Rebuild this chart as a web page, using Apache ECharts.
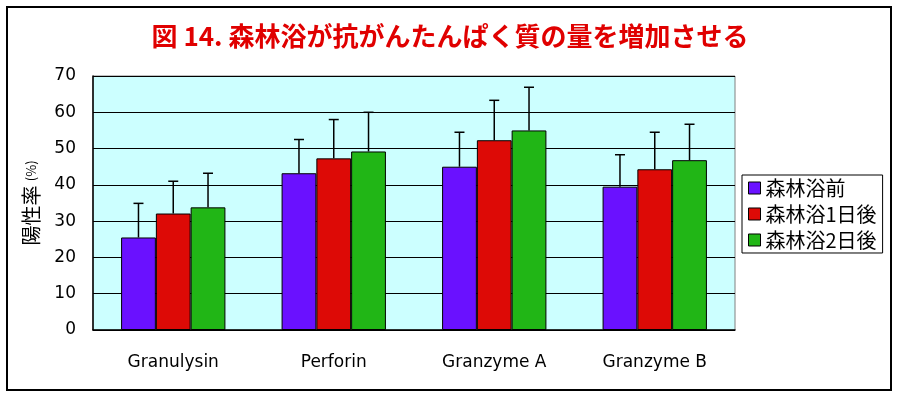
<!DOCTYPE html>
<html>
<head>
	<meta charset="utf-8">
	<title>森林浴と抗がんたんぱく質</title>
	<script src="https://cdn.jsdelivr.net/npm/echarts@6/dist/echarts.min.js"></script>
	<style type="text/css">
		html, body { margin: 0; padding: 0; background: #fff; }
		#chart { width: 900px; height: 398px; }
	</style>
</head>
<body>
<div id="chart"></div>
<script type="text/javascript">

	// ================= データ
	var categories = ['Granulysin', 'Perforin', 'Granzyme A', 'Granzyme B'];
	var seriesNames = ['森林浴前', '森林浴1日後', '森林浴2日後'];
	var colors = ['#6a11ff', '#dd0a06', '#21b616'];

	// 陽性率 (%)
	var before = [25.5, 43.2, 45.0, 39.5];
	var day1 = [32.1, 47.3, 52.3, 44.3];
	var day2 = [33.8, 49.2, 55.0, 46.8];

	// エラーバー上端 (%)
	var beforeErr = [34.9, 52.5, 54.5, 48.3];
	var day1Err = [41.0, 58.0, 63.3, 54.5];
	var day2Err = [43.2, 60.0, 66.9, 56.7];

	var yTicks = [0, 10, 20, 30, 40, 50, 60, 70];

	var values = [before, day1, day2];
	var errors = [beforeErr, day1Err, day2Err];
	var gapRatio = 0.35;

	// エラーバー描画
	function makeErrRender(idx) {
		return function(params, api) {
			var cat = api.value(0);
			var bandW = api.size([1, 0])[0];
			var barW = bandW * (1 - gapRatio) / 3;
			var x = api.coord([cat, 0])[0] + (idx - 1) * barW;
			var top = api.coord([cat, api.value(1)])[1];
			var up = api.coord([cat, api.value(2)])[1];
			var style = { stroke: '#000', lineWidth: 1.5 };
			return {
				type: 'group',
				children: [
					{ type: 'line', shape: { x1: x, y1: top, x2: x, y2: up }, style: style },
					{ type: 'line', shape: { x1: x - 5, y1: up, x2: x + 5, y2: up }, style: style }
				]
			};
		};
	}

	var series = [];
	seriesNames.forEach(function(name, i) {
		series.push({
			name: name,
			type: 'bar',
			data: values[i],
			barGap: '0%',
			barCategoryGap: (gapRatio * 100) + '%',
			itemStyle: { color: colors[i], borderColor: '#000', borderWidth: 1 },
			z: 2
		});
	});
	seriesNames.forEach(function(name, i) {
		series.push({
			type: 'custom',
			renderItem: makeErrRender(i),
			data: categories.map(function(c, k) { return [k, values[i][k], errors[i][k]]; }),
			z: 5,
			silent: true
		});
	});

	var myChart = echarts.init(document.getElementById('chart'));
	var option = {
		backgroundColor: '#fff',
		animation: false,
		title: {
			text: '図 14. 森林浴が抗がんたんぱく質の量を増加させる',
			left: 'center',
			top: 18,
			textStyle: {
				color: '#e00000',
				fontSize: 26,
				fontWeight: 'bold',
				fontFamily: 'Noto Sans CJK JP'
			}
		},
		legend: {
			orient: 'vertical',
			left: 742,
			top: 175,
			itemWidth: 12,
			itemHeight: 12,
			itemGap: 6,
			padding: [3, 6, 3, 6],
			borderColor: '#000',
			borderWidth: 1,
			icon: 'rect',
			data: seriesNames.map(function(n, i) {
				return { name: n, itemStyle: { color: colors[i], borderColor: '#000', borderWidth: 1 } };
			}),
			textStyle: {
				color: '#000',
				fontSize: 20,
				fontFamily: 'Noto Sans CJK JP'
			}
		},
		grid: {
			left: 93,
			right: 165,
			top: 76,
			bottom: 68,
			show: true,
			backgroundColor: '#ccffff',
			borderColor: '#808080',
			borderWidth: 1
		},
		xAxis: {
			type: 'category',
			data: categories,
			axisLine: { lineStyle: { color: '#000', width: 1.5 } },
			axisTick: { inside: true, length: 6, lineStyle: { color: '#000' } },
			axisLabel: {
				color: '#000',
				fontSize: 17,
				fontFamily: 'DejaVu Sans',
				margin: 24
			}
		},
		yAxis: {
			type: 'value',
			min: yTicks[0],
			max: yTicks[yTicks.length - 1],
			interval: 10,
			name: '{a|陽性率 }{b|(%)}',
			nameLocation: 'middle',
			nameRotate: 90,
			nameGap: 52,
			nameTextStyle: {
				rich: {
					a: { fontSize: 20, color: '#000', fontFamily: 'Noto Sans CJK JP' },
					b: { fontSize: 13, color: '#000', fontFamily: 'Noto Sans CJK JP' }
				}
			},
			axisLine: { show: true, lineStyle: { color: '#000', width: 1.5 } },
			axisTick: { show: true, inside: true, length: 6, lineStyle: { color: '#000' } },
			splitLine: { lineStyle: { color: '#000', width: 1 } },
			axisLabel: {
				color: '#000',
				fontSize: 17,
				fontFamily: 'DejaVu Sans',
				margin: 17
			}
		},
		graphic: [{
			type: 'rect',
			shape: { x: 7, y: 7, width: 884, height: 383 },
			style: { fill: 'none', stroke: '#000', lineWidth: 2 },
			silent: true,
			z: 100
		}],
		series: series
	};
	myChart.setOption(option);

	window.onresize = function() {
		myChart.resize();
	};

</script>
</body>
</html>
